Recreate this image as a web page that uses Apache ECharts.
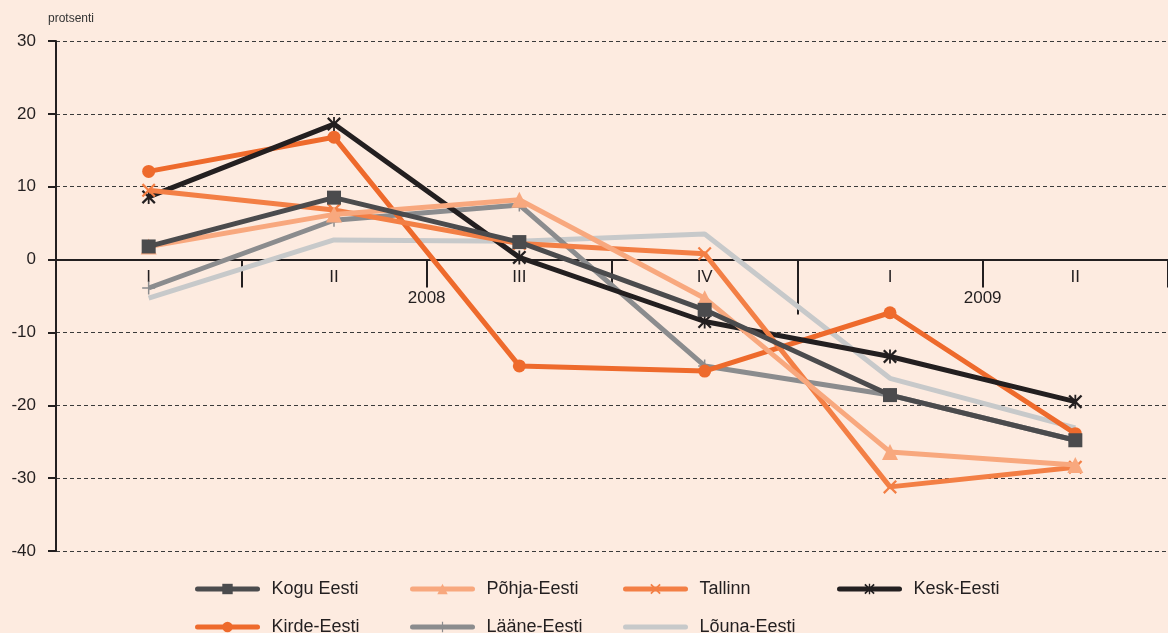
<!DOCTYPE html>
<html>
<head>
<meta charset="utf-8">
<script src="https://cdn.jsdelivr.net/npm/echarts@6/dist/echarts.min.js"></script>
<style>
  html, body { margin: 0; padding: 0; background: #fdebe0; }
  #chart { width: 1168px; height: 633px; }
</style>
</head>
<body>
<div id="chart"></div>
<script>
// Quarterly change, per cent, by region
const categories = ['2008 I', '2008 II', '2008 III', '2008 IV', '2009 I', '2009 II'];
const quarterLabels = ['I', 'II', 'III', 'IV', 'I', 'II'];
const yearLabels = ['2008', '2009'];

const koguEesti   = [1.8, 8.5, 2.4, -6.9, -18.6, -24.8];
const pohjaEesti  = [1.8, 6.2, 8.2, -5.3, -26.4, -28.2];
const tallinn     = [9.5, 6.8, 2.2, 0.8, -31.2, -28.5];
const keskEesti   = [8.6, 18.6, 0.3, -8.5, -13.3, -19.5];
const kirdeEesti  = [12.1, 16.8, -14.6, -15.3, -7.3, -23.9];
const laaneEesti  = [-3.9, 5.4, 7.5, -14.6, -18.6, -24.8];
const lounaEesti  = [-5.3, 2.7, 2.5, 3.5, -16.3, -23.1];

const FONT = '"Liberation Sans", Arial, Helvetica, sans-serif';
const INK = '#231f20';

const X_PATH = 'path://M0,1.6L1.6,0L7,5.4L12.4,0L14,1.6L8.6,7L14,12.4L12.4,14L7,8.6L1.6,14L0,12.4L5.4,7Z';
const STAR_PATH = 'path://M0,1.6L1.6,0L7,5.4L12.4,0L14,1.6L8.6,7L14,12.4L12.4,14L7,8.6L1.6,14L0,12.4L5.4,7Z M6.1,0H7.9V14H6.1Z';
const PLUS_PATH = 'path://M6.2,0H7.8V6.2H14V7.8H7.8V14H6.2V7.8H0V6.2H6.2Z';

// grid geometry: y from 30 (top) to -40 (bottom)
const GRID_TOP = 41, GRID_HEIGHT = 510, Y_MAX = 30, Y_MIN = -40;
const zeroFromTop = GRID_HEIGHT * (Y_MAX - 0) / (Y_MAX - Y_MIN);
const zeroFromBottom = GRID_HEIGHT - zeroFromTop;

function lineSeries(name, data, color, symbol, size, z) {
  return {
    name, type: 'line', data,
    xAxisIndex: 0, yAxisIndex: 0,
    symbol, symbolSize: size, showSymbol: symbol !== 'none',
    z,
    itemStyle: { color },
    lineStyle: { color, width: 5 },
    emphasis: { disabled: true },
    animation: false
  };
}

const series = [
  lineSeries('Lõuna-Eesti', lounaEesti, '#c7c9ca', 'none', 0, 2),
  lineSeries('Lääne-Eesti', laaneEesti, '#8b8c8e', PLUS_PATH, 13, 3),
  lineSeries('Kirde-Eesti', kirdeEesti, '#ee6a2c', 'circle', 13, 4),
  lineSeries('Kesk-Eesti', keskEesti, '#231f20', STAR_PATH, 14, 5),
  lineSeries('Tallinn', tallinn, '#f37f45', X_PATH, 14, 6),
  lineSeries('Põhja-Eesti', pohjaEesti, '#f8a87e', 'triangle', 16, 7),
  lineSeries('Kogu Eesti', koguEesti, '#4b4b4d', 'rect', 14, 8)
];

function legendColumn(left, names) {
  return {
    orient: 'vertical', left, top: 580, height: 120, padding: 0,
    itemWidth: 60, itemHeight: 13, itemGap: 20,
    selectedMode: false,
    lineStyle: { width: 5, cap: 'round' },
    textStyle: { fontFamily: FONT, fontSize: 18, lineHeight: 13, color: INK, padding: [0, 0, 0, 9] },
    data: names.map(n => n === 'Lõuna-Eesti' ? { name: n, itemStyle: { opacity: 0 } } : n)
  };
}

const chart = echarts.init(document.getElementById('chart'), null, { renderer: 'canvas' });
chart.setOption({
  backgroundColor: '#fdebe0',
  animation: false,
  grid: { left: 56, top: GRID_TOP, width: 1120, height: GRID_HEIGHT },
  legend: [
    legendColumn(195, ['Kogu Eesti', 'Kirde-Eesti']),
    legendColumn(410, ['Põhja-Eesti', 'Lääne-Eesti']),
    legendColumn(623, ['Tallinn', 'Lõuna-Eesti']),
    legendColumn(837, ['Kesk-Eesti'])
  ],
  xAxis: [
    {
      // quarter axis, lifted from the grid bottom onto the zero line
      type: 'category', data: categories, boundaryGap: true,
      position: 'bottom', offset: -zeroFromBottom,
      axisLine: { onZero: false, lineStyle: { color: INK, width: 2 } },
      axisTick: { show: true, length: 28, lineStyle: { color: INK, width: 2 } },
      axisLabel: {
        margin: 9, fontFamily: FONT, fontSize: 17, color: INK,
        formatter: (v, i) => quarterLabels[i]
      },
      splitLine: { show: false }
    },
    {
      // year axis on the zero line: year separator tick and year labels
      type: 'value', min: 0, max: 6, position: 'top',
      offset: -zeroFromTop,
      axisLine: { show: false, onZero: false },
      axisTick: { show: true, inside: true, length: 55, customValues: [4], lineStyle: { color: INK, width: 2 } },
      axisLabel: {
        show: true, inside: true, margin: 30, customValues: [2, 5],
        fontFamily: FONT, fontSize: 17, color: INK,
        formatter: v => (v === 2 ? yearLabels[0] : v === 5 ? yearLabels[1] : '')
      },
      splitLine: { show: false }
    }
  ],
  yAxis: {
    type: 'value', min: Y_MIN, max: Y_MAX, interval: 10,
    name: 'protsenti', nameLocation: 'end', nameGap: 16,
    nameTextStyle: { fontFamily: FONT, fontSize: 12, color: '#333', align: 'left', padding: [0, 0, 0, -8] },
    axisLine: { show: true, onZero: false, lineStyle: { color: INK, width: 2 } },
    axisTick: { show: true, length: 8, lineStyle: { color: INK, width: 2 } },
    axisLabel: { margin: 20, fontFamily: FONT, fontSize: 17, color: INK },
    splitLine: { show: true, lineStyle: { color: '#3a3a3a', width: 1.2, type: [4, 3] } }
  },
  series
});
</script>
</body>
</html>
